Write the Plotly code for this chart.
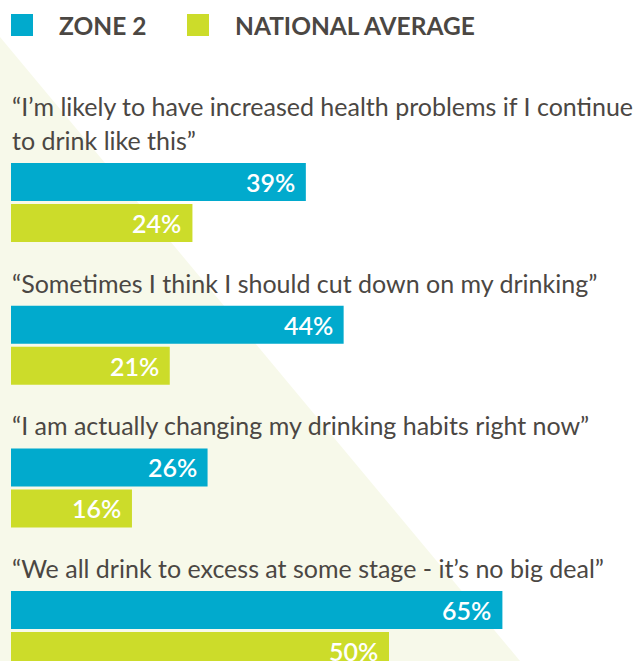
import plotly.graph_objects as go

# ---- data ----
statements = [
    "“I’m likely to have increased health problems if I continue<br>to drink like this”",
    "“Sometimes I think I should cut down on my drinking”",
    "“I am actually changing my drinking habits right now”",
    "“We all drink to excess at some stage - it’s no big deal”",
]
zone2 = [39, 44, 26, 65]
national = [24, 21, 16, 50]
series_names = ["ZONE 2", "NATIONAL AVERAGE"]

# ---- style ----
W, H = 633, 661
BLUE = "#01AACD"
GREEN = "#CCDC2A"
TEXT = "#4B4743"
TINT = "#F7F9EA"
FONT = "Lato"

px_per_pct = 7.56
x0_px = 11
first_center = 182
group_step = 142.7
bar_h = 38
pair_gap = 41
label_offset = 42
line_step = 34

blue_y = [first_center + i * group_step for i in range(len(statements))]
green_y = [y + pair_gap for y in blue_y]

fig = go.Figure()
fig.add_trace(go.Bar(x=zone2, y=blue_y, orientation="h", width=bar_h,
                     marker=dict(color=BLUE, line=dict(width=0)), name=series_names[0],
                     hoverinfo="x"))
fig.add_trace(go.Bar(x=national, y=green_y, orientation="h", width=bar_h,
                     marker=dict(color=GREEN, line=dict(width=0)), name=series_names[1],
                     hoverinfo="x"))

annotations = []
# value labels
for vals, ys in ((zone2, blue_y), (national, green_y)):
    for v, y in zip(vals, ys):
        annotations.append(dict(x=v, y=y, text=f"{v}%", xanchor="right", yanchor="middle",
                                xshift=-9, showarrow=False,
                                font=dict(family=FONT, size=25, color="white", weight=600)))
# statement labels
for s, y in zip(statements, blue_y):
    lines = s.split("<br>")
    n = len(lines)
    for k, line in enumerate(lines):
        ly = y - label_offset - (n - 1 - k) * line_step
        annotations.append(dict(x=0, y=ly, text=line, xanchor="left", yanchor="middle",
                                xshift=-1, showarrow=False,
                                font=dict(family=FONT, size=25, color=TEXT)))
# legend text
legend_x = [57, 233]
for name, lx in zip(series_names, legend_x):
    annotations.append(dict(x=lx / W, y=1 - 25 / H, xref="paper", yref="paper", text=name,
                            xanchor="left", yanchor="middle", showarrow=False,
                            font=dict(family=FONT, size=24.5, color=TEXT, weight="bold")))

shapes = [
    dict(type="path", xref="paper", yref="paper",
         path=f"M 0 {1 - 37 / H} L {520 / W} 0 L 0 0 Z",
         fillcolor=TINT, line=dict(width=0), layer="below"),
    dict(type="rect", xref="paper", yref="paper", x0=11 / W, x1=33 / W,
         y0=1 - 36 / H, y1=1 - 14 / H, fillcolor=BLUE, line=dict(width=0)),
    dict(type="rect", xref="paper", yref="paper", x0=187 / W, x1=209 / W,
         y0=1 - 36 / H, y1=1 - 14 / H, fillcolor=GREEN, line=dict(width=0)),
]

fig.update_layout(
    width=W, height=H,
    margin=dict(l=0, r=0, t=0, b=0),
    paper_bgcolor="white", plot_bgcolor="rgba(0,0,0,0)",
    barmode="overlay", showlegend=False,
    xaxis=dict(range=[-x0_px / px_per_pct, (W - x0_px) / px_per_pct], visible=False,
               fixedrange=True),
    yaxis=dict(range=[H, 0], visible=False, fixedrange=True),
    annotations=annotations, shapes=shapes,
    font=dict(family=FONT, color=TEXT),
)

fig.write_html("out.html", config={"displayModeBar": False},
               post_script="document.body.style.margin='0';")
